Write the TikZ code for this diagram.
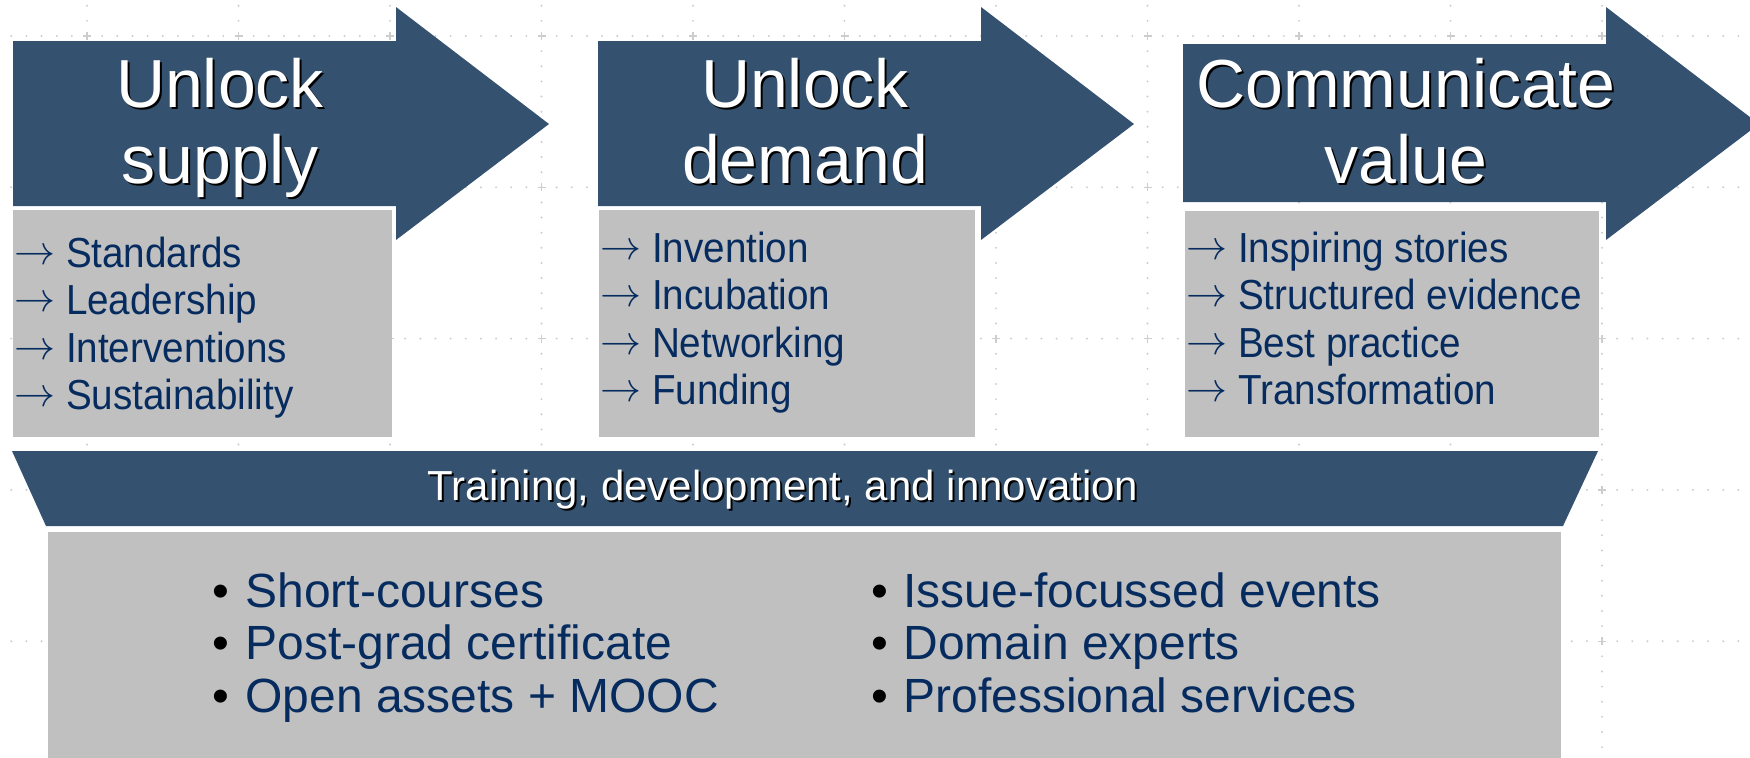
\documentclass[tikz,border=0pt]{standalone}
\usepackage{fontspec}
\setmainfont{Liberation Sans}
\newfontfamily\itemfont[FakeStretch=0.92]{Liberation Sans}
\definecolor{arrowblue}{HTML}{34516F}
\definecolor{boxgray}{HTML}{C0C0C0}
\definecolor{navy}{HTML}{062B5F}
\definecolor{gridc}{HTML}{CDCDCD}
\tikzset{
  headtxt/.style={anchor=base, inner sep=0pt, text=white, font=\fontsize{34}{38}\selectfont},
  headshadow/.style={anchor=base, inner sep=0pt, text=black, font=\fontsize{34}{38}\selectfont},
  bandtxt/.style={anchor=base, inner sep=0pt, text=white, font=\fontsize{21}{24}\selectfont},
  bandshadow/.style={anchor=base, inner sep=0pt, text=black, font=\fontsize{21}{24}\selectfont},
  itemtxt/.style={anchor=base west, inner sep=0pt, text=navy, font=\itemfont\fontsize{21}{24}\selectfont},
  bullettxt/.style={anchor=base west, inner sep=0pt, text=navy, font=\fontsize{24}{26}\selectfont},
  bulletdot/.style={anchor=base, inner sep=0pt, text=black, font=\fontsize{24}{26}\selectfont},
  arrowshape/.style={fill=arrowblue},
  grayshape/.style={fill=boxgray},
  griddot/.style={fill=gridc},
  gridcross/.style={draw=gridc, line width=0.7pt}
}
\newcommand{\headline}[4]{%
  \node[headshadow] (#1-s) at ({#2+2},{#3+2}) {#4};
  \node[headtxt] (#1) at (#2,#3) {#4};}
\newcommand{\itemarrow}{\makebox[25.8pt][l]{\raisebox{1.3pt}{\resizebox{20.5pt}{!}{$\rightarrow$}}}}
\begin{document}
\begin{tikzpicture}[x=0.5pt,y=-0.5pt]
\useasboundingbox (0,0) rectangle (1750,757);
\clip (0,0) rectangle (1750,757);
% background grid of dots
\foreach \i in {0,...,10} {
  \foreach \j in {-2,...,48} {
    \fill[griddot] ({87+151.5*\i},{36+15.13*\j}) circle[radius=0.55pt];
  }
}
\foreach \k in {0,...,4} {
  \foreach \m in {-5,...,110} {
    \fill[griddot] ({87+15.15*\m},{36+151.3*\k}) circle[radius=0.55pt];
  }
}
\foreach \i in {0,...,10} {
  \foreach \k in {0,...,4} {
    \draw[gridcross] ({87+151.5*\i-4},{36+151.3*\k}) -- ({87+151.5*\i+4},{36+151.3*\k});
    \draw[gridcross] ({87+151.5*\i},{36+151.3*\k-4}) -- ({87+151.5*\i},{36+151.3*\k+4});
  }
}
% arrows
\fill[arrowshape] (13,41) -- (396,41) -- (396,7) -- (549,124) -- (396,240) -- (396,206) -- (13,206) -- cycle;
\fill[arrowshape] (598,41) -- (981,41) -- (981,7) -- (1134,124) -- (981,240) -- (981,206) -- (598,206) -- cycle;
\fill[arrowshape] (1183,44) -- (1606,44) -- (1606,7) -- (1759,124) -- (1606,240) -- (1606,202) -- (1183,202) -- cycle;
% gray boxes
\fill[grayshape] (13,210) rectangle (392,437);
\fill[grayshape] (599,210) rectangle (975,437);
\fill[grayshape] (1185,211) rectangle (1599,437);
% band
\fill[arrowshape] (12,451) -- (1598,451) -- (1563,526) -- (46,526) -- cycle;
\fill[grayshape] (48,532) rectangle (1561,770);
% headings
\headline{h1a}{220}{107}{Unlock}
\headline{h1b}{220}{183}{supply}
\headline{h2a}{805}{107}{Unlock}
\headline{h2b}{805}{183}{demand}
\headline{h3a}{1406}{107}{Communicate}
\headline{h3b}{1406}{183}{value}
% items column 1
\node[itemtxt] (s1) at (14,267) {\itemarrow Standards};
\node[itemtxt] (s2) at (14,314) {\itemarrow Leadership};
\node[itemtxt] (s3) at (14,362) {\itemarrow Interventions};
\node[itemtxt] (s4) at (14,409) {\itemarrow Sustainability};
% items column 2
\node[itemtxt] (d1) at (600,262) {\itemarrow Invention};
\node[itemtxt] (d2) at (600,309) {\itemarrow Incubation};
\node[itemtxt] (d3) at (600,357) {\itemarrow Networking};
\node[itemtxt] (d4) at (600,404) {\itemarrow Funding};
% items column 3
\node[itemtxt] (v1) at (1186,262) {\itemarrow Inspiring stories};
\node[itemtxt] (v2) at (1186,309) {\itemarrow Structured evidence};
\node[itemtxt] (v3) at (1186,357) {\itemarrow Best practice};
\node[itemtxt] (v4) at (1186,404) {\itemarrow Transformation};
% band text
\node[bandshadow] (band-s) at (785,502) {Training, development, and innovation};
\node[bandtxt] (band) at (783,500) {Training, development, and innovation};
% bottom list
\node[bulletdot] (b1d) at (221,607) {•};
\node[bullettxt] (b1) at (245,607) {Short-courses};
\node[bulletdot] (b2d) at (221,659) {•};
\node[bullettxt] (b2) at (245,659) {Post-grad certificate};
\node[bulletdot] (b3d) at (221,712) {•};
\node[bullettxt] (b3) at (245,712) {Open assets + MOOC};
\node[bulletdot] (c1d) at (880,607) {•};
\node[bullettxt] (c1) at (903,607) {Issue-focussed events};
\node[bulletdot] (c2d) at (880,659) {•};
\node[bullettxt] (c2) at (903,659) {Domain experts};
\node[bulletdot] (c3d) at (880,712) {•};
\node[bullettxt] (c3) at (903,712) {Professional services};
\end{tikzpicture}
\end{document}
